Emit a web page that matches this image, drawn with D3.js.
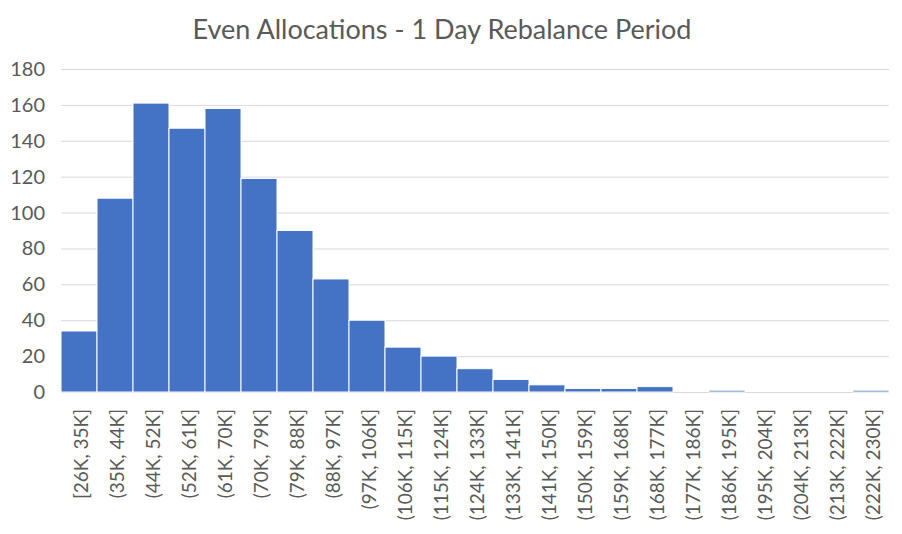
<!DOCTYPE html>
<html><head><meta charset="utf-8">
<script src="https://cdn.jsdelivr.net/npm/d3@7"></script>
<style>body{margin:0;background:#fff;} svg{display:block;}</style>
</head><body>
<svg id="c" width="902" height="534"></svg>
<script>
const categories = ["[26K, 35K]","(35K, 44K]","(44K, 52K]","(52K, 61K]","(61K, 70K]","(70K, 79K]","(79K, 88K]","(88K, 97K]","(97K, 106K]","(106K, 115K]","(115K, 124K]","(124K, 133K]","(133K, 141K]","(141K, 150K]","(150K, 159K]","(159K, 168K]","(168K, 177K]","(177K, 186K]","(186K, 195K]","(195K, 204K]","(204K, 213K]","(213K, 222K]","(222K, 230K]"];
const counts = [34,108,161,147,158,119,90,63,40,25,20,13,7,4,2,2,3,0,1,0,0,0,1];
const yTicks = [0,20,40,60,80,100,120,140,160,180];
const title = "Even Allocations - 1 Day Rebalance Period";

const svg = d3.select("#c");
const font = "Lato, 'Open Sans', sans-serif";
const m = {l:61, r:889, t:69, b:392};
const x = d3.scaleBand().domain(categories).range([m.l, m.r]).padding(0);
const y = d3.scaleLinear().domain([0,180]).range([m.b, m.t]);

svg.append("text").attr("x",442).attr("y",39).attr("text-anchor","middle")
  .attr("font-family",font).attr("font-size",27).attr("fill","#595959").text(title);

svg.append("g").selectAll("line").data(yTicks).join("line")
  .attr("x1",m.l).attr("x2",m.r).attr("y1",d=>y(d)+0.5).attr("y2",d=>y(d)+0.5)
  .attr("stroke","#d9d9d9").attr("stroke-width",1);

svg.append("g").selectAll("text").data(yTicks).join("text")
  .attr("x",45).attr("y",d=>y(d)).attr("dy","0.35em").attr("text-anchor","end")
  .attr("font-family",font).attr("font-size",20).attr("fill","#595959").text(d=>d);

svg.append("g").selectAll("rect").data(counts).join("rect")
  .attr("x",(d,i)=>x(categories[i])).attr("width",x.bandwidth())
  .attr("y",d=>y(d)).attr("height",d=>y(0)-y(d))
  .attr("fill","#4472c4").attr("stroke","#fff").attr("stroke-width",1);

svg.append("g").selectAll("text").data(categories).join("text")
  .attr("transform",d=>`translate(${x(d)+x.bandwidth()/2+2},409) rotate(-90)`)
  .attr("dy","0.35em").attr("text-anchor","end")
  .attr("font-family",font).attr("font-size",19).attr("fill","#595959").text(d=>d);
</script>
</body></html>
